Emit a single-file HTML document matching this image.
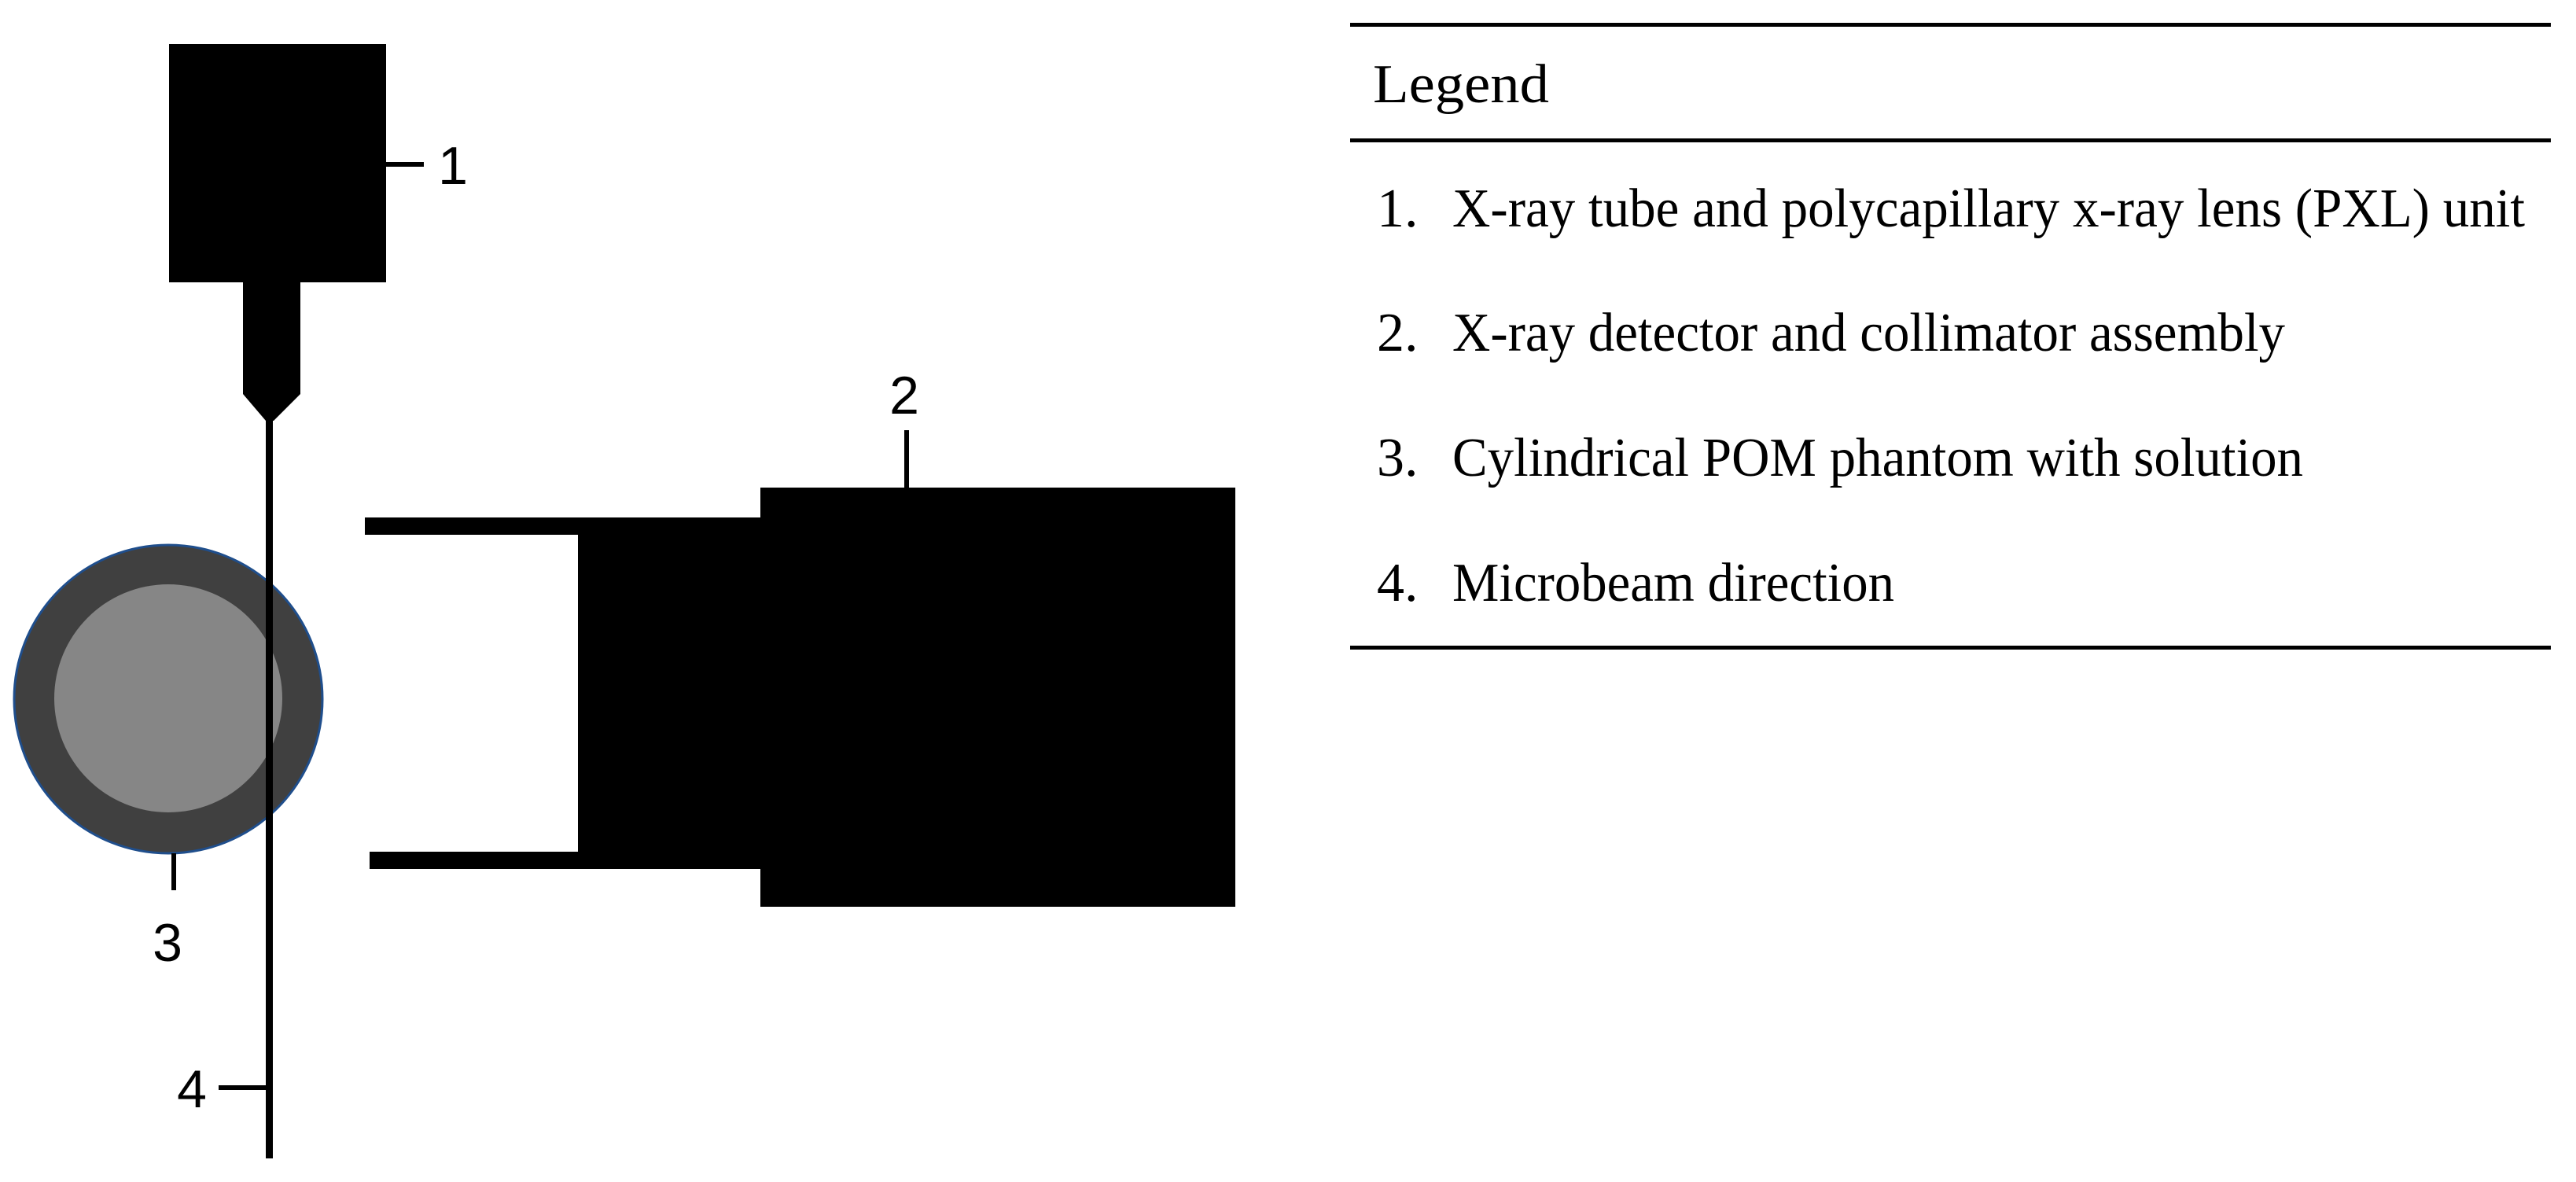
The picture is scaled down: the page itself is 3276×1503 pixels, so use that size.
<!DOCTYPE html>
<html><head><meta charset="utf-8"><style>
html,body{margin:0;padding:0;background:#fff;width:3276px;height:1503px;overflow:hidden}
</style></head><body>
<svg width="3276" height="1503" viewBox="0 0 3276 1503" xmlns="http://www.w3.org/2000/svg">
<rect width="3276" height="1503" fill="#fff"/>
<rect x="215" y="56" width="276" height="303" fill="#000"/>
<polygon points="309,359 382,359 382,501 348,535 338,535 309,501" fill="#000"/>
<circle cx="214" cy="889" r="196" fill="#404040" stroke="#1f4e8c" stroke-width="3"/>
<circle cx="214" cy="888" r="145" fill="#868686"/>
<rect x="338" y="520" width="9" height="953" fill="#000"/>
<rect x="967" y="620" width="604" height="533" fill="#000"/>
<rect x="735" y="668" width="240" height="437" fill="#000"/>
<rect x="464" y="658" width="510" height="22" fill="#000"/>
<rect x="470" y="1083" width="504" height="22" fill="#000"/>
<rect x="491" y="206" width="48" height="6" fill="#000"/>
<rect x="1150" y="547" width="6" height="73" fill="#000"/>
<rect x="218" y="1085" width="6" height="47" fill="#000"/>
<rect x="278" y="1380" width="62" height="6" fill="#000"/>
<g font-family="Liberation Sans, sans-serif" font-size="68" fill="#000" text-anchor="middle">
<text x="576" y="234">1</text>
<text x="1150" y="526">2</text>
<text x="213" y="1222">3</text>
<text x="244" y="1408">4</text>
</g>
<rect x="1717" y="29" width="1527" height="5" fill="#000"/>
<rect x="1717" y="176" width="1527" height="5" fill="#000"/>
<rect x="1717" y="821" width="1527" height="5" fill="#000"/>
<g style="font-family:'Liberation Serif','Times New Roman',serif" font-size="70" fill="#000">
<text x="1746" y="130" textLength="224" lengthAdjust="spacingAndGlyphs">Legend</text>
<text x="1751" y="288">1.</text>
<text x="1847" y="288" textLength="1364" lengthAdjust="spacingAndGlyphs">X-ray tube and polycapillary x-ray lens (PXL) unit</text>
<text x="1751" y="446">2.</text>
<text x="1847" y="446" textLength="1059" lengthAdjust="spacingAndGlyphs">X-ray detector and collimator assembly</text>
<text x="1751" y="605">3.</text>
<text x="1847" y="605" textLength="1082" lengthAdjust="spacingAndGlyphs">Cylindrical POM phantom with solution</text>
<text x="1751" y="764">4.</text>
<text x="1847" y="764" textLength="562" lengthAdjust="spacingAndGlyphs">Microbeam direction</text>
</g>
</svg>
</body></html>
